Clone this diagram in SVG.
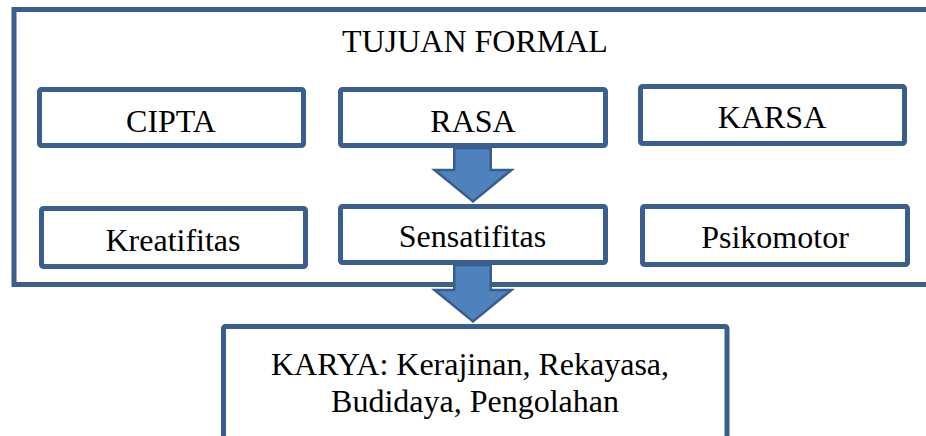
<svg xmlns="http://www.w3.org/2000/svg" width="926" height="436" viewBox="0 0 926 436">
<style>
.box{fill:#fff;stroke:#3A5F8E;stroke-width:5;}
.frame{fill:none;stroke:#3A5F8E;stroke-width:5;}
.arrow{fill:#4F81BD;stroke:#385D8A;stroke-width:2.5;stroke-linejoin:miter;}
text{font-family:"Liberation Serif","Times New Roman",serif;font-size:32px;fill:#000;text-anchor:middle;}
</style>
<rect width="926" height="436" fill="#fff"/>
<g id="tujuan-formal">
<path class="frame" d="M940 9.5 H14 V284.5 H940"/>
<text x="475" y="52">TUJUAN FORMAL</text>
</g>
<g id="cipta">
<rect class="box" x="39.5" y="89.5" width="264" height="56" rx="2"/>
<text x="171" y="132">CIPTA</text>
</g>
<g id="rasa">
<rect class="box" x="340.5" y="89.5" width="265" height="56" rx="2"/>
<text x="473" y="132">RASA</text>
</g>
<g id="karsa">
<rect class="box" x="640.5" y="86.5" width="264" height="57" rx="2"/>
<text x="772" y="128">KARSA</text>
</g>
<g id="kreatifitas">
<rect class="box" x="41.5" y="208.5" width="264" height="58" rx="2"/>
<text x="173" y="251">Kreatifitas</text>
</g>
<g id="sensatifitas">
<rect class="box" x="340.5" y="206.5" width="265" height="56" rx="2"/>
<text x="472.5" y="247">Sensatifitas</text>
</g>
<g id="psikomotor">
<rect class="box" x="642.5" y="206.5" width="265" height="58" rx="2"/>
<text x="775" y="248">Psikomotor</text>
</g>
<g id="karya">
<rect class="box" x="223.5" y="326.5" width="503.5" height="150" rx="2"/>
<text x="470" y="375">KARYA: Kerajinan, Rekayasa,</text>
<text x="475" y="412">Budidaya, Pengolahan</text>
</g>
<g id="connectors">
<polygon class="arrow" points="454.25,148 490.75,148 490.75,170 511.5,170 473,201.5 434.5,170 454.25,170"/>
<polygon class="arrow" points="454.25,265 490.75,265 490.75,290 511.5,290 473,321.5 434.5,290 454.25,290"/>
</g>
</svg>
